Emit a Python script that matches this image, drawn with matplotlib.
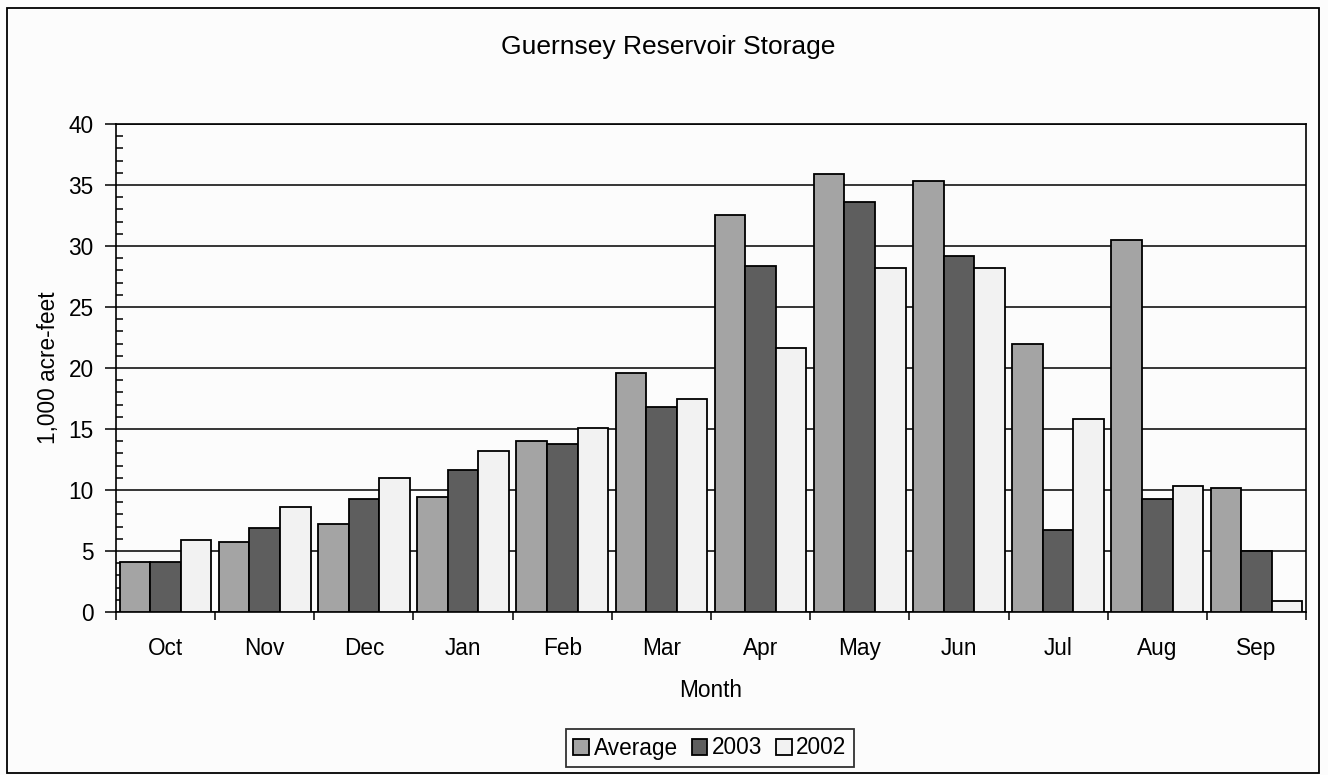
import numpy as np
import matplotlib
matplotlib.use("Agg")
import matplotlib.pyplot as plt
from matplotlib.ticker import MultipleLocator, FixedLocator
from matplotlib.patches import Rectangle

plt.rcParams['font.family'] = ['Liberation Sans', 'DejaVu Sans']

months = ['Oct', 'Nov', 'Dec', 'Jan', 'Feb', 'Mar', 'Apr', 'May', 'Jun', 'Jul', 'Aug', 'Sep']
average = [4.1, 5.7, 7.2, 9.4, 14.0, 19.6, 32.5, 35.9, 35.3, 22.0, 30.5, 10.2]
y2003 = [4.1, 6.9, 9.3, 11.6, 13.8, 16.8, 28.4, 33.6, 29.2, 6.7, 9.3, 5.0]
y2002 = [5.9, 8.6, 11.0, 13.2, 15.1, 17.5, 21.6, 28.2, 28.2, 15.8, 10.3, 0.9]

series = [('Average', average, '#a4a4a4'),
          ('2003', y2003, '#5e5e5e'),
          ('2002', y2002, '#f2f2f2')]

fs = 16.3

fig = plt.figure(figsize=(13.28, 7.75), dpi=100, facecolor='#fcfcfc')
ax = fig.add_axes([116 / 1328, 1 - 612 / 775, 1190 / 1328, 488 / 775])
ax.set_facecolor('#fcfcfc')

# Excel-style clustered bars, 25% gap between groups
w = 1 / 3.25
x = np.arange(len(months))
for k, (name, vals, col) in enumerate(series):
    ax.bar(x + (k - 1) * w, vals, width=w, color=col, edgecolor='black',
           linewidth=1.3, label=name, zorder=3)

ax.set_xlim(-0.5, 11.5)
ax.set_ylim(0, 40)

ax.yaxis.set_major_locator(MultipleLocator(5))
ax.yaxis.set_minor_locator(MultipleLocator(1))
ax.grid(axis='y', which='major', color='black', linewidth=1.1, zorder=0)
ax.tick_params(axis='y', which='major', direction='out', length=8, width=1.1,
               pad=8, labelsize=fs)
ax.tick_params(axis='y', which='minor', direction='in', length=5, width=1.1)

# month names at group centres, tick marks at group boundaries
ax.xaxis.set_major_locator(FixedLocator(x))
ax.set_xticklabels(months)
ax.xaxis.set_minor_locator(FixedLocator(np.arange(-0.5, 12, 1.0)))
ax.tick_params(axis='x', which='major', length=0, pad=18, labelsize=fs)
ax.tick_params(axis='x', which='minor', direction='out', length=6, width=1.1)

for s in ax.spines.values():
    s.set_color('black')
    s.set_linewidth(1.2)

ax.set_xlabel('Month', fontsize=fs, labelpad=14)
ax.set_ylabel('1,000 acre-feet', fontsize=fs, labelpad=6)

fig.text(668 / 1328, 1 - 47 / 775, 'Guernsey Reservoir Storage',
         ha='center', va='center', fontsize=19)

leg = fig.legend(loc='center', bbox_to_anchor=(710 / 1328, 1 - 748 / 775),
                 ncol=3, fontsize=fs, frameon=True, fancybox=False,
                 handlelength=0.7, handleheight=0.7, handletextpad=0.2,
                 columnspacing=0.6, borderpad=0.35, borderaxespad=0)
leg.get_frame().set_edgecolor('black')
leg.get_frame().set_linewidth(1.3)
leg.get_frame().set_facecolor('#fcfcfc')

# outer chart border
fig.patches.append(Rectangle((7 / 1328, 2 / 775), 1312 / 1328, 765 / 775,
                             transform=fig.transFigure, fill=False,
                             edgecolor='black', linewidth=1.3))

fig.savefig('out.png', dpi=100, facecolor=fig.get_facecolor())
